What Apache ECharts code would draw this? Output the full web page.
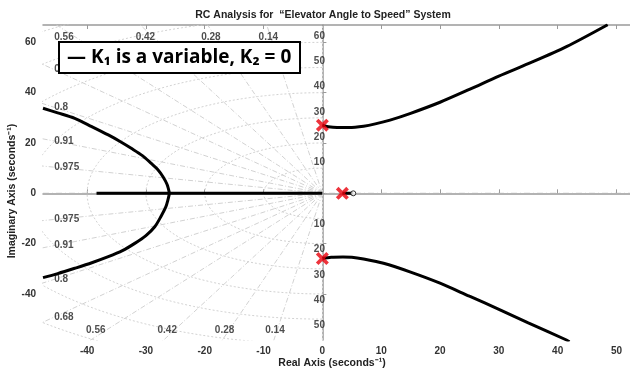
<!DOCTYPE html>
<html>
<head>
<meta charset="utf-8">
<script src="https://cdn.jsdelivr.net/npm/echarts@6/dist/echarts.min.js"></script>
<style>html,body{margin:0;padding:0;background:#fff;}#c{width:630px;height:373px;}</style>
</head>
<body>
<div id="c"></div>
<script>
// ---- data ----
const xTickValues = [-40, -30, -20, -10, 0, 10, 20, 30, 40, 50];
const yTickValues = [-40, -20, 0, 20, 40, 60];
const dampingRatios = [0.14, 0.28, 0.42, 0.56, 0.68, 0.8, 0.91, 0.975];
const naturalFreqs = [10, 20, 30, 40, 50, 60, 70, 80];
const poles = [[0, 27.1], [0, -25.9], [3.4, 0]];
const zeros = [[5.25, 0]];
const branchRealAxis = [[-38.4, 0], [0, 0]];
const branchPoleZero = [[3.4, 0], [5.25, 0]];
const branchLeftUpper = [[-26, 0], [-26.4, 3.5], [-27.1, 6.6], [-28, 9.5], [-29.1, 11.9], [-30.6, 15], [-32.5, 17.9], [-34.4, 20.6], [-36.4, 23.2], [-39.2, 26.5], [-42.1, 29.8], [-45, 32], [-47.5, 33.8]];
const branchLeftLower = [[-26, 0], [-26.3, -3], [-26.6, -5.3], [-27.4, -9], [-28.5, -13.3], [-30, -16.8], [-31.9, -19.9], [-34, -22.8], [-36.4, -25.2], [-39.2, -27.6], [-42.1, -29.8], [-45, -31.9], [-47.5, -33.5]];
const branchRightUpper = [[0, 27.1], [1, 26.5], [2.5, 26.2], [4.5, 26.2], [7, 26.7], [9, 27.6], [11.5, 29.1], [15, 31.8], [20, 36.2], [25, 41.3], [30, 46.6], [35, 51.5], [41.5, 58.3], [48.5, 67]];
const branchRightLower = [[0, -25.9], [1.5, -25.4], [3.5, -25.3], [5, -25.4], [7, -26.1], [10.4, -27.8], [15, -31.3], [20, -35.7], [25, -40.9], [30.2, -46.3], [35, -51.5], [41.5, -58.3], [42, -59]];

const xMin = -47.5, xMax = 52.3, yMin = -58.3, yMax = 66.9;

// ---- s-plane grid geometry built from damping ratios / natural frequencies ----
const gridColor = '#d2d2d2';
const gridSeries = [];
dampingRatios.forEach(z => {
  const s = Math.sqrt(1 - z * z);
  const R = 140;
  gridSeries.push({type: 'line', data: [[0, 0], [-R * z, R * s]]});
  gridSeries.push({type: 'line', data: [[0, 0], [-R * z, -R * s]]});
});
naturalFreqs.forEach(w => {
  const pts = [];
  for (let i = 0; i <= 90; i++) {
    const a = Math.PI / 2 + Math.PI * i / 90;
    pts.push([w * Math.cos(a), w * Math.sin(a)]);
  }
  gridSeries.push({type: 'line', data: pts, dotted: true});
});
const gridLineSeries = gridSeries.map(g => ({
  type: 'line', data: g.data, showSymbol: false, silent: true, z: 1,
  lineStyle: {color: gridColor, width: 1, type: g.dotted ? [2, 2] : [5, 2, 1, 2]}
}));
gridLineSeries.push({type: 'line', data: [[xMin, 0], [xMax, 0]], showSymbol: false, silent: true, z: 1,
  lineStyle: {color: '#b4b4b4', width: 1, type: [6, 3, 1, 3]}});
gridLineSeries.push({type: 'line', data: [[0, yMin], [0, yMax]], showSymbol: false, silent: true, z: 1,
  lineStyle: {color: '#dcdcdc', width: 1, type: [2, 2]}});

// grid labels
const labelFont = {fontFamily: 'Liberation Sans, Arial, sans-serif', fontWeight: 'bold', fontSize: 10, color: '#222'};
const gridLabels = [];
const leftLabelX = -45.6;
dampingRatios.forEach(z => {
  const s = Math.sqrt(1 - z * z);
  const topX = -65 * z / s;
  if (topX > leftLabelX) {
    gridLabels.push({name: String(z), value: [topX, 65], label: {offset: [0, 7]}});
    gridLabels.push({name: String(z), value: [-57 * z / s, -57], label: {offset: [0, -6]}});
  } else {
    const yy = -leftLabelX * s / z;
    gridLabels.push({name: String(z), value: [leftLabelX, yy], label: {align: 'left', offset: [0, 0]}});
    gridLabels.push({name: String(z), value: [leftLabelX, -yy], label: {align: 'left', offset: [0, 0]}});
  }
});
naturalFreqs.forEach(w => {
  if (w + 2.5 < yMax) gridLabels.push({name: String(w), value: [0, w], label: {offset: [-3, -6]}});
  if (-w - 2.5 > yMin) gridLabels.push({name: String(w), value: [0, -w], label: {offset: [-3, 6]}});
});

const branchStyle = {color: '#000', width: 3};
function branch(d) {
  return {type: 'line', data: d, showSymbol: false, silent: true, z: 5, lineStyle: branchStyle, smooth: 0.3};
}

const chart = echarts.init(document.getElementById('c'), null, {renderer: 'canvas'});
const axisLine = {show: true, lineStyle: {color: '#9a9a9a', width: 1.5}};
const tickStyle = {show: true, inside: true, length: 4, lineStyle: {color: '#9a9a9a'}};
const tickLabel = {fontFamily: 'Liberation Sans, Arial, sans-serif', fontWeight: 'bold', fontSize: 10, color: '#333'};

chart.setOption({
  animation: false,
  backgroundColor: '#fff',
  grid: {left: 43, right: 0, top: 25, bottom: 33, show: false},
  xAxis: [{
    type: 'value', min: xMin, max: xMax, position: 'bottom',
    axisLine: axisLine,
    axisTick: Object.assign({}, tickStyle, {customValues: xTickValues}),
    axisLabel: Object.assign({}, tickLabel, {customValues: xTickValues, margin: 6}),
    splitLine: {show: false}
  }, {
    type: 'value', min: xMin, max: xMax, position: 'top',
    axisLine: axisLine,
    axisTick: Object.assign({}, tickStyle, {customValues: xTickValues}),
    axisLabel: {show: false},
    splitLine: {show: false}
  }],
  yAxis: [{
    type: 'value', min: yMin, max: yMax, position: 'left',
    axisLine: axisLine,
    axisTick: Object.assign({}, tickStyle, {customValues: yTickValues}),
    axisLabel: Object.assign({}, tickLabel, {customValues: yTickValues, margin: 7}),
    splitLine: {show: false}
  }],
  series: gridLineSeries.concat([
    {
      type: 'scatter', data: gridLabels, symbolSize: 0, silent: true, z: 3,
      label: Object.assign({show: true, position: 'inside', formatter: '{b}'}, labelFont)
    },
    branch(branchRealAxis),
    branch(branchPoleZero),
    branch(branchLeftUpper),
    branch(branchLeftLower),
    branch(branchRightUpper),
    branch(branchRightLower),
    {
      type: 'scatter', data: zeros, symbol: 'circle', symbolSize: 5, silent: true, z: 8,
      itemStyle: {color: '#fff', borderColor: '#000', borderWidth: 1}
    },
    {
      type: 'scatter', data: poles, silent: true, z: 9, symbolSize: 13,
      symbol: 'path://M0,2 L2,0 L5,3 L8,0 L10,2 L7,5 L10,8 L8,10 L5,7 L2,10 L0,8 L3,5 Z',
      itemStyle: {color: '#e8000b'}
    }
  ]),
  graphic: [
    {type: 'text', x: 323, y: 15, z: 50, style: {text: 'RC Analysis for  \u201CElevator Angle to Speed\u201D System', align: 'center', verticalAlign: 'middle', fontFamily: 'Liberation Sans, Arial, sans-serif', fontWeight: 'bold', fontSize: 10.5, fill: '#222'}},
    {type: 'text', x: 332, y: 363, z: 50, style: {text: 'Real Axis (seconds\u207B\u00B9)', align: 'center', verticalAlign: 'middle', fontFamily: 'Liberation Sans, Arial, sans-serif', fontWeight: 'bold', fontSize: 10.5, fill: '#222'}},
    {type: 'text', x: 12, y: 191, rotation: Math.PI / 2, z: 50, style: {text: 'Imaginary Axis (seconds\u207B\u00B9)', align: 'center', verticalAlign: 'middle', fontFamily: 'Liberation Sans, Arial, sans-serif', fontWeight: 'bold', fontSize: 10.5, fill: '#222'}},
    {type: 'rect', z: 60, shape: {x: 59, y: 42, width: 241, height: 31}, style: {fill: '#fff', stroke: '#000', lineWidth: 2}},
    {type: 'text', x: 67, y: 58, z: 61, style: {text: '\u2014 K\u2081 is a variable, K\u2082 = 0', align: 'left', verticalAlign: 'middle', fontFamily: '"Open Sans", "Noto Sans", sans-serif', fontWeight: 'bold', fontSize: 19, fill: '#000'}}
  ]
});
</script>
</body>
</html>
